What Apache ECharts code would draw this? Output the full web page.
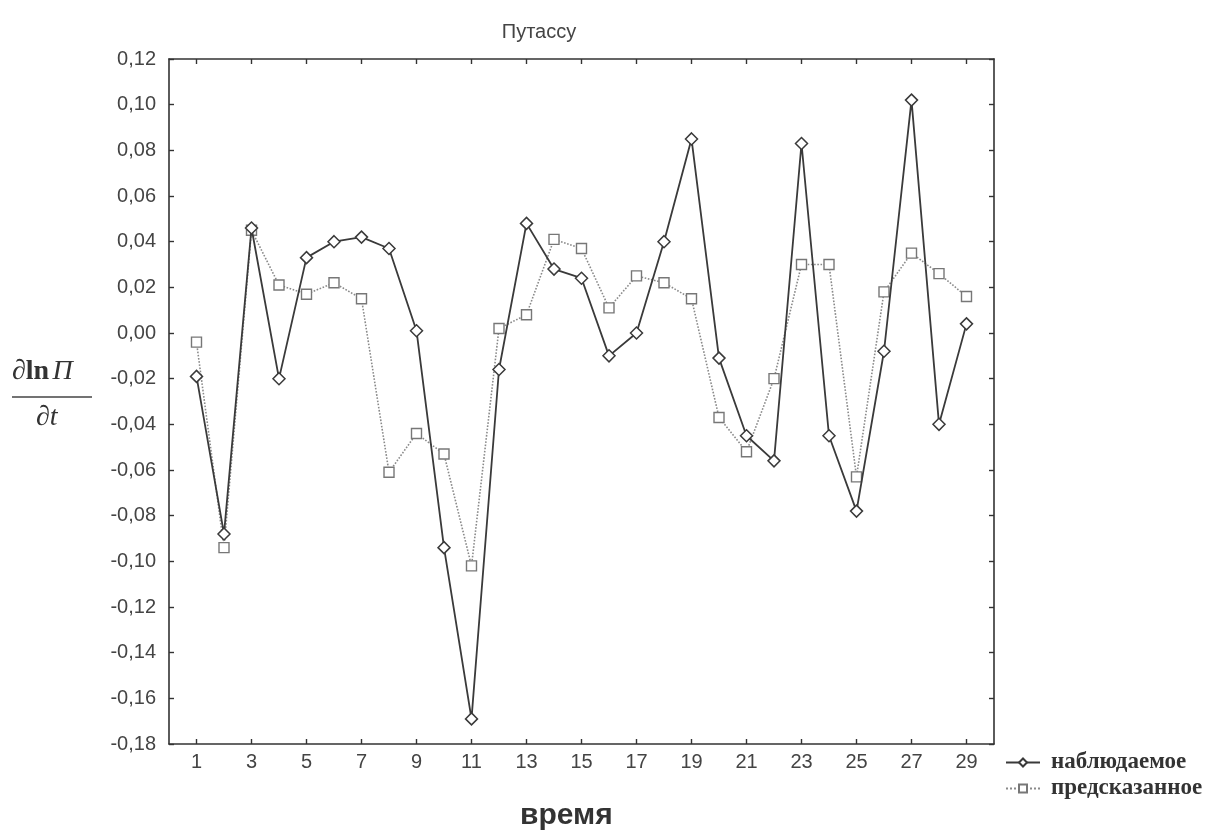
<!DOCTYPE html>
<html>
<head>
<meta charset="utf-8">
<script src="https://cdn.jsdelivr.net/npm/echarts@6/dist/echarts.min.js"></script>
<style>
html,body{margin:0;padding:0;background:#fff;}
#chart{width:1214px;height:837px;}
</style>
</head>
<body>
<div id="chart"></div>
<script>
// ---- data ----
const times = [1,2,3,4,5,6,7,8,9,10,11,12,13,14,15,16,17,18,19,20,21,22,23,24,25,26,27,28,29];
const observed = [-0.019,-0.088,0.046,-0.020,0.033,0.040,0.042,0.037,0.001,-0.094,-0.169,-0.016,0.048,0.028,0.024,-0.010,0.000,0.040,0.085,-0.011,-0.045,-0.056,0.083,-0.045,-0.078,-0.008,0.102,-0.040,0.004];
const predicted = [-0.004,-0.094,0.045,0.021,0.017,0.022,0.015,-0.061,-0.044,-0.053,-0.102,0.002,0.008,0.041,0.037,0.011,0.025,0.022,0.015,-0.037,-0.052,-0.020,0.030,0.030,-0.063,0.018,0.035,0.026,0.016];
const xTickValues = [1,3,5,7,9,11,13,15,17,19,21,23,25,27,29];
const titleText = 'Путассу';
const xName = 'время';
const seriesNames = ['наблюдаемое','предсказанное'];

const obsData = times.map((t,i)=>[t, observed[i]]);
const preData = times.map((t,i)=>[t, predicted[i]]);

const chart = echarts.init(document.getElementById('chart'));
const axisLineStyle = {color:'#333', width:1.6};
const fmtY = v => v.toFixed(2).replace('-0.00','0.00').replace('.',',');
const labelFont = {fontFamily:'Liberation Sans, Arial', fontSize:20, color:'#444'};

chart.setOption({
  backgroundColor:'#fff',
  animation:false,
  title:{
    text:titleText, left:534, top:17, textAlign:'center',
    textStyle:{fontFamily:'Liberation Sans, Arial', fontSize:20, fontWeight:'normal', color:'#444'}
  },
  grid:{left:169, right:220, top:59, bottom:93},
  legend:{
    orient:'vertical', left:1000, top:746, itemWidth:34, itemHeight:10, itemGap:3,
    data:seriesNames,
    textStyle:{fontFamily:'Liberation Serif, Times New Roman, serif', fontSize:23, fontWeight:'bold', color:'#333', padding:[0,0,0,6]}
  },
  xAxis:[{
    type:'value', min:0, max:30, position:'bottom',
    axisLine:{show:true, onZero:false, lineStyle:axisLineStyle},
    axisTick:{show:true, inside:true, length:5, customValues:xTickValues, lineStyle:{color:'#333', width:1.4}},
    axisLabel:Object.assign({show:true, customValues:xTickValues, margin:8}, labelFont),
    splitLine:{show:false}
  },{
    type:'value', min:0, max:30, position:'top',
    axisLine:{show:true, onZero:false, lineStyle:axisLineStyle},
    axisTick:{show:true, inside:true, length:5, customValues:xTickValues, lineStyle:{color:'#333', width:1.4}},
    axisLabel:{show:false},
    splitLine:{show:false}
  }],
  yAxis:[{
    type:'value', min:-0.18, max:0.12, interval:0.02, position:'left',
    axisLine:{show:true, onZero:false, lineStyle:axisLineStyle},
    axisTick:{show:true, inside:true, length:5, lineStyle:{color:'#333', width:1.4}},
    axisLabel:Object.assign({formatter:fmtY, margin:13}, labelFont),
    splitLine:{show:false}
  },{
    type:'value', min:-0.18, max:0.12, interval:0.02, position:'right',
    axisLine:{show:true, onZero:false, lineStyle:axisLineStyle},
    axisTick:{show:true, inside:true, length:5, lineStyle:{color:'#333', width:1.4}},
    axisLabel:{show:false},
    splitLine:{show:false}
  }],
  series:[{
    name:seriesNames[0], type:'line', data:obsData, xAxisIndex:0, yAxisIndex:0,
    symbol:'diamond', symbolSize:12,
    lineStyle:{color:'#3a3a3a', width:1.8, type:'solid'},
    itemStyle:{color:'#fff', borderColor:'#3a3a3a', borderWidth:1.5},
    z:3
  },{
    name:seriesNames[1], type:'line', data:preData, xAxisIndex:0, yAxisIndex:0,
    symbol:'rect', symbolSize:10,
    lineStyle:{color:'#8a8a8a', width:1.6, type:'dotted'},
    itemStyle:{color:'#fff', borderColor:'#777', borderWidth:1.4},
    z:2
  }],
  graphic:[
    {type:'text', left:12, top:358, style:{
      text:'{d|∂}{ln|ln} {p|Π}',
      rich:{
        d:{font:'italic 28px "Liberation Serif", serif', fill:'#333'},
        ln:{font:'bold 28px "Liberation Serif", serif', fill:'#333'},
        p:{font:'italic 28px "Liberation Serif", serif', fill:'#333'}
      }
    }},
    {type:'line', shape:{x1:12, y1:397, x2:92, y2:397}, style:{stroke:'#444', lineWidth:1.6}},
    {type:'text', left:36, top:404, style:{text:'∂t', font:'italic 28px "Liberation Serif", serif', fill:'#333'}},
    {type:'text', left:520, top:801, style:{text:xName, font:'bold 30px "Liberation Sans", Arial', fill:'#333'}}
  ]
});
</script>
</body>
</html>
